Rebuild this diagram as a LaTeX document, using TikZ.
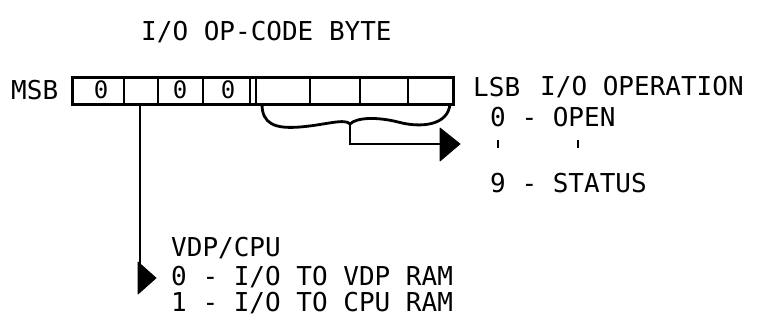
\documentclass[tikz,border=0pt]{standalone}
\usepackage{fontspec}
\newfontfamily\monofam{DejaVu Sans Mono}
\begin{document}
\begin{tikzpicture}[x=1pt,y=-1pt,
  lbl/.style={font=\monofam\fontsize{26}{26}\selectfont, anchor=west, inner sep=0pt},
  bit/.style={font=\monofam\fontsize{24}{24}\selectfont, inner sep=0pt},
  frame/.style={line width=3pt},
  divider/.style={line width=2.4pt},
  conn/.style={line width=2.8pt},
  tick/.style={line width=2.6pt},
  tipfill/.style={fill=black, draw=black, line width=0.8pt, line join=round}]
\useasboundingbox[fill=white] (0,0) rectangle (765,324);
% texts
\node[lbl] (title) at (141,32) {I/O OP-CODE BYTE};
\node[lbl] (msb) at (11,90) {MSB};
\node[lbl] (lsb) at (473,87) {LSB};
\node[lbl] (ioop) at (540,87) {I/O OPERATION};
\node[lbl] (open) at (490,117) {0 - OPEN};
\node[lbl] (status) at (490,183) {9 - STATUS};
\node[lbl] (vdpcpu) at (171,248) {VDP/CPU};
\node[lbl] (vdpram) at (171,277) {0 - I/O TO VDP RAM};
\node[lbl] (cpuram) at (171,303) {1 - I/O TO CPU RAM};
% byte box
\node[draw, frame, minimum width=381pt, minimum height=27pt, inner sep=0pt] (byte) at (262.5,90.5) {};
\foreach \x in {124,158,203,250,256,310,360,408}
  \draw[divider] (\x,77) -- (\x,104);
\node[bit] (b7) at (101,90) {0};
\node[bit] (b5) at (180,90) {0};
\node[bit] (b4) at (228,90) {0};
% VDP/CPU arrow
\coordinate (vtop) at (140,104);
\coordinate (vbot) at (140,278);
\draw[conn] (vtop) -- (vbot);
\fill[tipfill] (138,262) -- (156,278) -- (138,294) -- cycle;
% brace
\coordinate (bl) at (262,104);
\coordinate (br) at (450,104);
\coordinate (bc) at (350,124);
\coordinate (bs) at (350,144);
\coordinate (be) at (441,144);
\draw[conn, line join=round] (bl) .. controls (262,124) and (275,129) .. (300,127)
   .. controls (325,125) and (345,118) .. (bc)
   .. controls (357,117) and (378,117) .. (398,122)
   .. controls (420,128) and (448,126) .. (br);
\draw[conn] (bc) -- (bs) -- (be);
\fill[tipfill] (440,128) -- (460,144) -- (440,161) -- cycle;
% ticks
\draw[tick] (498,140) -- (498,148);
\draw[tick] (578,140) -- (578,148);
\end{tikzpicture}
\end{document}
